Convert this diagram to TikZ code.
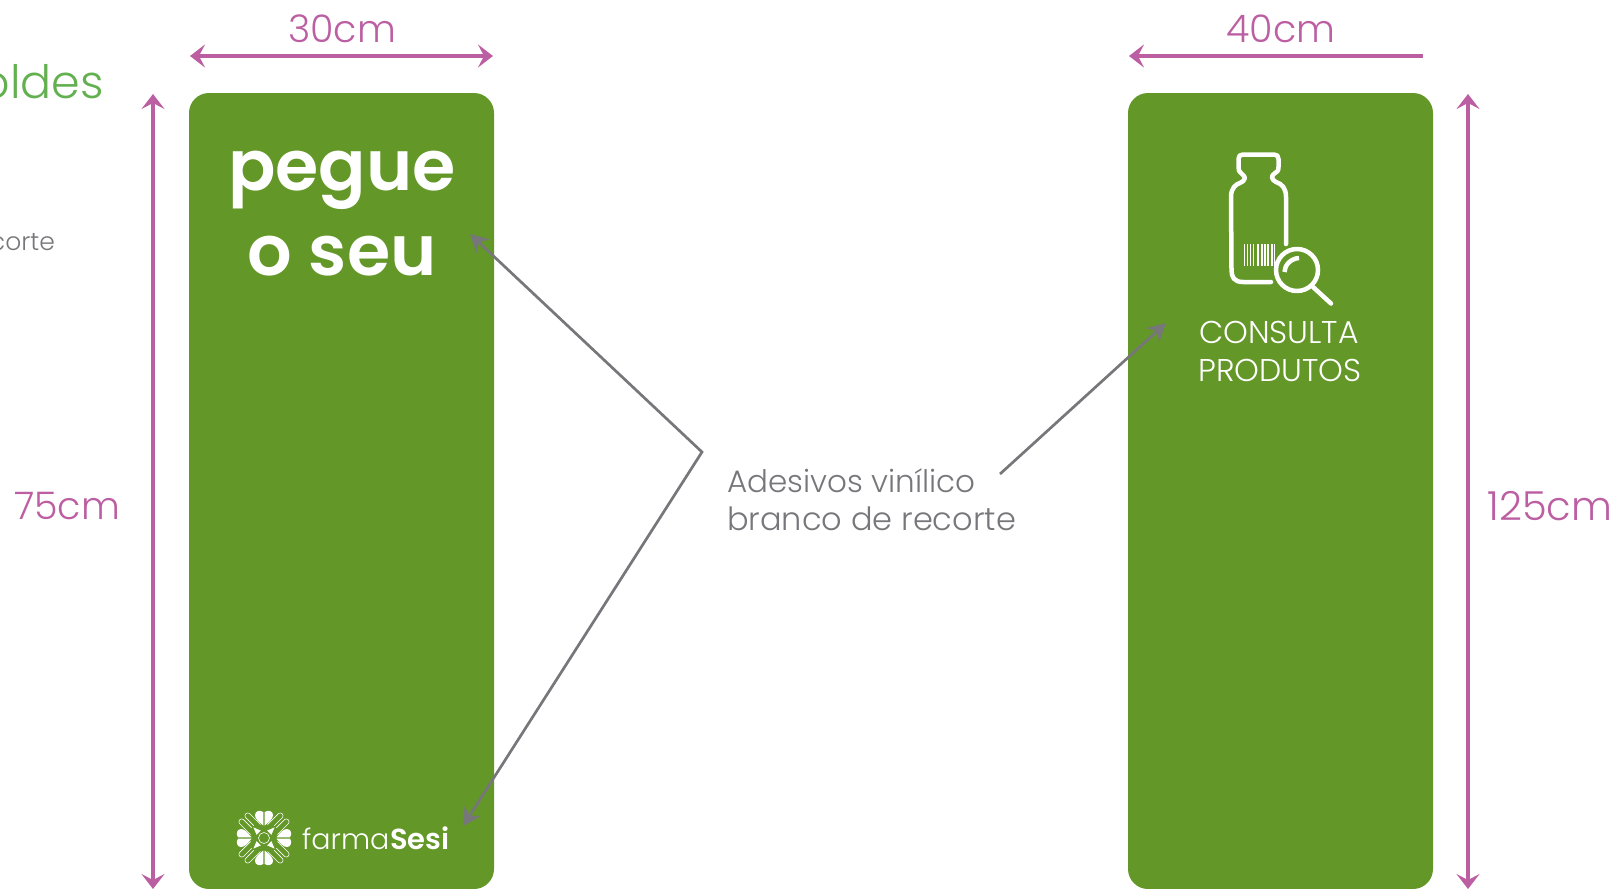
\documentclass[tikz,border=0pt]{standalone}
\usepackage{fontspec}
\setmainfont{Poppins}[UprightFont={* Light}]
\newfontfamily\semiface{Poppins}[UprightFont={* SemiBold}]
\usetikzlibrary{arrows.meta}
\definecolor{cardgreen}{HTML}{639727}
\definecolor{dimpink}{HTML}{BC5FA2}
\definecolor{notegrey}{HTML}{77777B}
\definecolor{titlegreen}{HTML}{62B04F}
\tikzset{
  card/.style={fill=cardgreen,rounded corners=20pt},
  dimline/.style={draw=dimpink,line width=3.2pt},
  noteline/.style={draw=notegrey,line width=2.7pt},
  dimtip/.tip={Stealth[length=15pt,width=23pt,inset=6pt]},
  notetip/.tip={Stealth[length=18pt,width=19pt,inset=6pt]},
  dimtext/.style={text=dimpink,font=\fontsize{38}{38}\selectfont,inner sep=0pt},
  notetext/.style={text=notegrey,inner sep=0pt,align=left},
  bigword/.style={text=white,font=\semiface\fontsize{70}{70}\selectfont,inner sep=0pt},
  cardtext/.style={text=white,font=\fontsize{31.5}{38}\selectfont,inner sep=0pt,align=center},
  icon/.style={draw=white,line width=4.5pt,line cap=round,line join=round},
  petal/.style={fill=white},
  leaf/.style={draw=white,line width=0.55pt,rounded corners=2.5pt}
}
\begin{document}
\begin{tikzpicture}[x=1pt,y=-1pt]
\useasboundingbox (0,0) rectangle (1618,889);
\clip (0,0) rectangle (1618,889);
% cards
\path[card] (189,93) rectangle (494,889);
\path[card] (1128,93) rectangle (1433,889);
% clipped texts at the left edge
\node[anchor=base east,text=titlegreen,font=\fontsize{46}{46}\selectfont,inner sep=0pt] (title) at (104,98) {oldes};
\node[anchor=base east,text=notegrey,font=\fontsize{25}{25}\selectfont,inner sep=0pt] (cutnote) at (55,250) {corte};
% dimension labels
\node[dimtext,anchor=base] (w1) at (342,42) {30cm};
\node[dimtext,anchor=base] (w2) at (1281,42) {40cm};
\node[dimtext,anchor=base] (h1) at (67,519) {75cm};
\node[dimtext,font=\fontsize{40}{40}\selectfont,anchor=base] (h2) at (1550,520) {125cm};
% dimension arrows
\coordinate (w1a) at (190,56);\coordinate (w1b) at (493,56);
\coordinate (w2a) at (1129,56);\coordinate (w2b) at (1423,56);
\coordinate (h1a) at (153,94);\coordinate (h1b) at (153,889);
\coordinate (h2a) at (1468,94);\coordinate (h2b) at (1468,889);
\draw[dimline,dimtip-dimtip] (w1a) -- (w1b);
\draw[dimline,dimtip-] (w2a) -- (w2b);
\draw[dimline,dimtip-dimtip] (h1a) -- (h1b);
\draw[dimline,dimtip-dimtip] (h2a) -- (h2b);
% card 1 words
\node[bigword,anchor=base] (pegue) at (342,190) {pegue};
\node[bigword,anchor=base] (oseu) at (342,275) {o seu};
% logo text
\node[anchor=base west,text=white,font=\fontsize{28.5}{30}\selectfont,inner sep=0pt] (farma) at (302,849) {farma};
\node[anchor=base west,text=white,font=\semiface\fontsize{29}{30}\selectfont,inner sep=0pt] (sesi) at (390,849) {Sesi};
% logo emblem
\begin{scope}[shift={(264,838)}]
\foreach \a in {0,90,180,270}{
  \begin{scope}[rotate=\a]
    \path[petal] (-0.7,-12.5) .. controls (-5,-16) and (-9,-19) .. (-9,-23) .. controls (-9,-27) and (-4,-28.5) .. (-0.7,-26) -- cycle;
    \path[petal] (0.7,-12.5) .. controls (5,-16) and (9,-19) .. (9,-23) .. controls (9,-27) and (4,-28.5) .. (0.7,-26) -- cycle;
  \end{scope}
}
\foreach \a in {45,135,225,315}{
  \begin{scope}[rotate=\a]
    \draw[leaf] (1.5,-16) -- (1.5,-30) -- (7,-30) -- (7,-12);
    \draw[leaf] (-1.5,-16) -- (-1.5,-30) -- (-7,-30) -- (-7,-12);
    \path[petal] (-3,-7.5) -- (3,-7.5) -- (0,-15) -- cycle;
  \end{scope}
}
\draw[draw=white,line width=0.6pt] (0,0) circle (5.5pt);
\end{scope}
% bottle icon
\draw[icon] (1271,282) -- (1243,282) .. controls (1234,282) and (1231.5,277) .. (1231.5,270)
  -- (1231,197) .. controls (1231,188) and (1236,184) .. (1240,183) .. controls (1245,181) and (1246,177) .. (1243,175)
  -- (1241,173) .. controls (1239,172) and (1238.5,170) .. (1238.5,167)
  -- (1238.5,159) .. controls (1238.5,156) and (1240,154.5) .. (1243,154.5)
  -- (1274,154.5) .. controls (1277,154.5) and (1278.5,156) .. (1278.5,159)
  -- (1278.5,167) .. controls (1278.5,171) and (1277,172) .. (1275,173)
  .. controls (1270,176) and (1272,180) .. (1276,182) .. controls (1282,184) and (1286,188) .. (1286,197)
  -- (1286,244);
\foreach \x/\w in {1244.5/1.3,1247.5/1.3,1250.5/1.3,1253.5/1.3,1258/2.4,1262/1.3,1265/1.3,1268/1.7,1272/1.3,1274.5/1.3}{
  \draw[white,line width=\w pt] (\x,244) -- (\x,266);
}
\draw[icon] (1297,270) circle (21pt);
\draw[icon,line cap=butt] (1284.5,272) .. controls (1284.5,265) and (1291,258.5) .. (1299,258);
\draw[icon] (1313,287) -- (1331,303.5);
% card 2 text
\node[cardtext,anchor=base] (consulta) at (1279,343) {CONSULTA};
\node[cardtext,anchor=base] (produtos) at (1280,381) {PRODUTOS};
% note
\node[notetext,font=\fontsize{31}{38}\selectfont,anchor=base west] (note1) at (727,492) {Adesivos vinílico};
\node[notetext,font=\fontsize{32}{38}\selectfont,anchor=base west] (note2) at (727,530) {branco de recorte};
\coordinate (knee) at (702,452);
\coordinate (tipA) at (470,234);
\coordinate (tipB) at (463,826);
\coordinate (tipC) at (1166,323);
\coordinate (startC) at (1000,474);
\draw[noteline,notetip-notetip] (tipA) -- (knee) -- (tipB);
\draw[noteline,-notetip] (startC) -- (tipC);
\end{tikzpicture}
\end{document}
